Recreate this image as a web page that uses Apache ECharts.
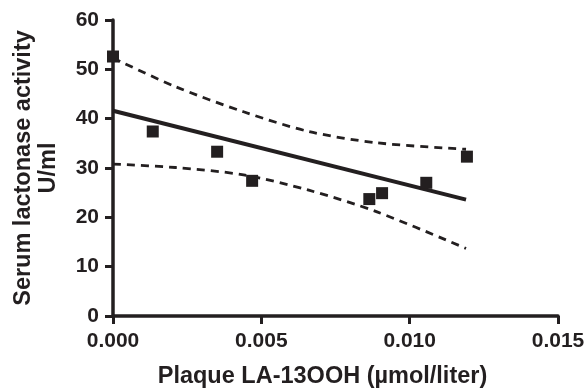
<!DOCTYPE html>
<html>
<head>
<meta charset="utf-8">
<script src="https://cdn.jsdelivr.net/npm/echarts@6/dist/echarts.min.js"></script>
<style>
  html, body { margin: 0; padding: 0; background: #fff; }
  #chart { width: 585px; height: 388px; }
</style>
</head>
<body>
<div id="chart"></div>
<script>
// measured points
const plaqueX = [0, 0.00134, 0.00351, 0.00469, 0.00864, 0.00907, 0.01056, 0.01193];
const lactonaseY = [52.6, 37.4, 33.3, 27.4, 23.7, 24.9, 27.0, 32.3];

// regression line ends
const fitX = [0, 0.0119];
const fitY = [41.6, 23.6];

// 95% confidence band
const bandX = [0, 0.0021, 0.0044, 0.0066, 0.0089, 0.0119];
const bandUpper = [52.3, 46.5, 41.4, 37.4, 35.1, 33.8];
const bandLower = [30.8, 30.1, 28.6, 25.5, 21.1, 13.7];

const xTicks = [0, 0.005, 0.010, 0.015];
const yTicks = [0, 10, 20, 30, 40, 50, 60];

const ink = "#231f20";
const font = "'Liberation Sans', Arial, sans-serif";

const zip = (xs, ys) => xs.map((x, i) => [x, ys[i]]);

const chart = echarts.init(document.getElementById("chart"));

chart.setOption({
  animation: false,
  grid: { left: 113, right: 27, top: 20, bottom: 72, outerBoundsMode: "none" },
  xAxis: {
    type: "value",
    min: xTicks[0],
    max: xTicks[xTicks.length - 1],
    interval: 0.005,
    name: "Plaque LA-13OOH (µmol/liter)",
    nameLocation: "middle",
    nameGap: 49,
    nameTextStyle: { color: ink, fontFamily: font, fontWeight: "bold", fontSize: 23.5, padding: [0, 26, 0, 0] },
    axisLine: { lineStyle: { color: ink, width: 3.5 } },
    axisTick: { show: true, inside: false, length: 8, lineStyle: { color: ink, width: 3 } },
    axisLabel: {
      margin: 15,
      color: ink,
      fontFamily: font,
      fontWeight: "bold",
      fontSize: 21,
      formatter: (v) => v.toFixed(3),
    },
    splitLine: { show: false },
  },
  yAxis: {
    type: "value",
    min: yTicks[0],
    max: yTicks[yTicks.length - 1],
    interval: 10,
    name: "Serum lactonase activity\nU/ml",
    nameLocation: "middle",
    nameGap: 52,
    nameTextStyle: { color: ink, fontFamily: font, fontWeight: "bold", fontSize: 23.5, lineHeight: 25 },
    axisLine: { show: true, lineStyle: { color: ink, width: 3.5 } },
    axisTick: { show: true, inside: false, length: 8, lineStyle: { color: ink, width: 3 } },
    axisLabel: { margin: 14, color: ink, fontFamily: font, fontWeight: "bold", fontSize: 21 },
    splitLine: { show: false },
  },
  series: [
    {
      type: "line",
      data: zip(bandX, bandUpper),
      smooth: 0.3,
      symbol: "none",
      lineStyle: { color: ink, width: 2.8, type: [8, 6] },
    },
    {
      type: "line",
      data: zip(bandX, bandLower),
      smooth: 0.3,
      symbol: "none",
      lineStyle: { color: ink, width: 2.8, type: [8, 6] },
    },
    {
      type: "line",
      data: zip(fitX, fitY),
      symbol: "none",
      lineStyle: { color: ink, width: 4 },
    },
    {
      type: "scatter",
      data: zip(plaqueX, lactonaseY),
      symbol: "rect",
      symbolSize: 12,
      clip: false,
      itemStyle: { color: ink, opacity: 1 },
      z: 5,
    },
  ],
});
</script>
</body>
</html>
